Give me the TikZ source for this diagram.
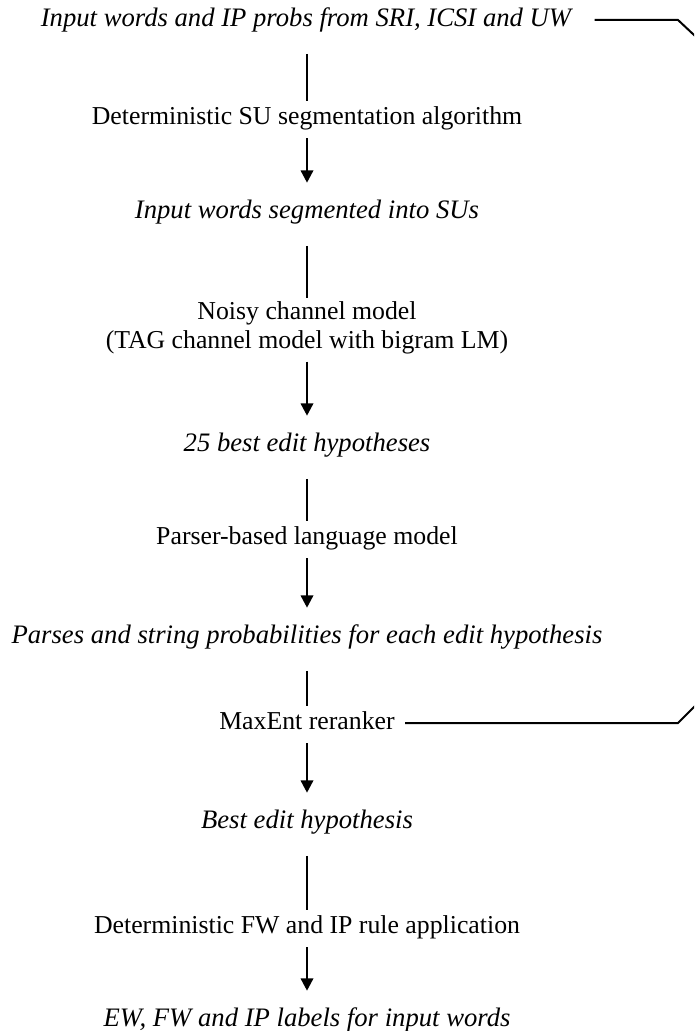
\documentclass[tikz,border=0pt]{standalone}
\usepackage{fontspec}
\setmainfont{Liberation Serif}
\usetikzlibrary{arrows.meta}

\begin{document}
\begin{tikzpicture}[x=0.45pt,y=-0.45pt,
    lbl/.style={inner sep=0pt,text height=8.7pt,text depth=2.9pt,font=\fontsize{11.6}{12.8}\selectfont},
    dat/.style={lbl,font=\fontsize{12}{13}\selectfont\itshape},
    twolines/.style={inner sep=0pt,align=center,font=\fontsize{11.6}{12.8}\selectfont},
    link/.style={line width=0.9pt,shorten <=9.2pt,shorten >=1.5pt},
    flow/.style={line width=0.9pt,-{Triangle[length=5.5pt,width=5.6pt]},shorten <=3.2pt,shorten >=7.2pt}]
  \useasboundingbox (0,0) rectangle (694,1031);
  \clip (0,0) rectangle (694,1031);

  \node[dat] (r1) at (306,20) {Input words and IP probs from SRI, ICSI and UW};
  \node[lbl] (r2) at (307,118) {Deterministic SU segmentation algorithm};
  \node[dat] (r3) at (307,212) {Input words segmented into SUs};
  \node[twolines] (r4) at (307,328) {Noisy channel model\\(TAG channel model with bigram LM)};
  \node[dat] (r5) at (307,445) {25 best edit hypotheses};
  \node[lbl] (r6) at (307,538) {Parser-based language model};
  \node[dat] (r7) at (307,637) {Parses and string probabilities for each edit hypothesis};
  \node[lbl] (r8) at (307,723) {MaxEnt reranker};
  \node[dat] (r9) at (307,822) {Best edit hypothesis};
  \node[lbl] (r10) at (307,927) {Deterministic FW and IP rule application};
  \node[dat] (r11) at (307,1020) {EW, FW and IP labels for input words};

  \foreach \a/\b in {1/2,3/4,5/6,7/8,9/10}
    \draw[link] (r\b.north |- r\a.south) -- (r\b.north);
  \foreach \a/\b in {2/3,4/5,6/7,8/9,10/11}
    \draw[flow] (r\a.south) -- (r\b.north);

  % feed back to the reranker, running off the right edge
  \coordinate (k1) at (678,0);
  \coordinate (k2) at (710,50);
  \coordinate (k3) at (710,691);
  \draw[line width=0.9pt,shorten <=10.4pt,shorten >=4.5pt] (r1.east) -- (r1.east -| k1) -- (k2)
    -- (k3) -- (r8.east -| k1) -- (r8.east);
\end{tikzpicture}
\end{document}
